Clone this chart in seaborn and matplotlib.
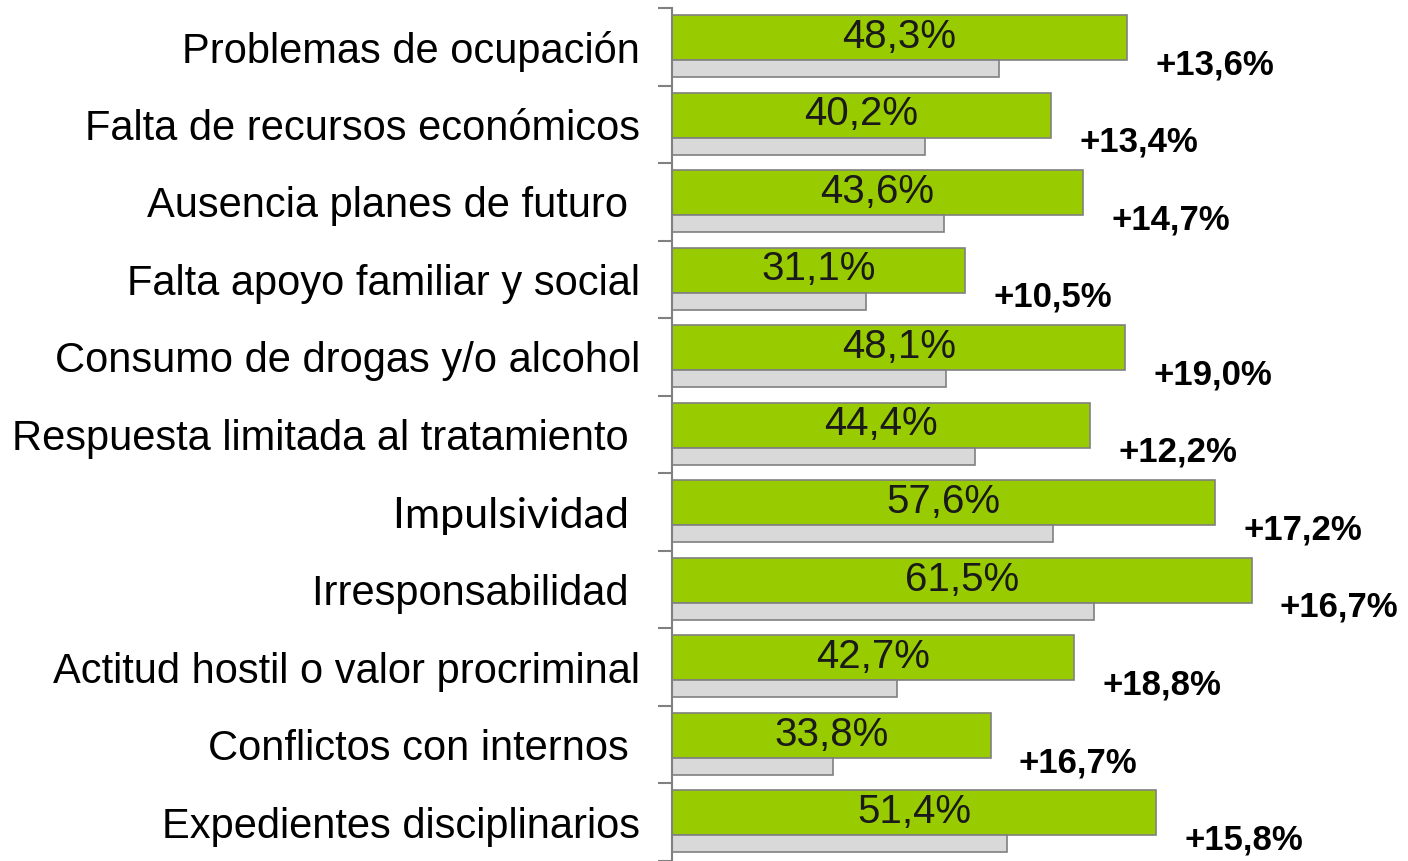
import pandas as pd
import matplotlib.pyplot as plt
import seaborn as sns

# Data
categories = [
    'Problemas de ocupación',
    'Falta de recursos económicos',
    'Ausencia planes de futuro ',
    'Falta apoyo familiar y social',
    'Consumo de drogas y/o alcohol',
    'Respuesta limitada al tratamiento ',
    'Impulsividad ',
    'Irresponsabilidad ',
    'Actitud hostil o valor procriminal',
    'Conflictos con internos ',
    'Expedientes disciplinarios',
]
green_values = [48.3, 40.2, 43.6, 31.1, 48.1, 44.4, 57.6, 61.5, 42.7, 33.8, 51.4]
gray_values = [34.7, 26.8, 28.9, 20.6, 29.1, 32.2, 40.4, 44.8, 23.9, 17.1, 35.6]
diff_labels = ['+13,6%', '+13,4%', '+14,7%', '+10,5%', '+19,0%', '+12,2%',
               '+17,2%', '+16,7%', '+18,8%', '+16,7%', '+15,8%']

df = pd.DataFrame({'cat': categories, 'green': green_values, 'gray': gray_values})

sns.set_style('white')
plt.rcParams['font.family'] = ['Liberation Sans', 'DejaVu Sans']

fig = plt.figure(figsize=(14.08, 8.61), dpi=100)
ax = fig.add_axes([672 / 1408, 0, 1 - 672 / 1408, 1 - 8 / 861])

# Green bars (upper part of each row)
sns.barplot(data=df, y='cat', x='green', orient='h', width=0.58,
            color='#99CC00', edgecolor='#808080', linewidth=1.2,
            saturation=1, ax=ax)
n_green = len(ax.patches)
for p in ax.patches[:n_green]:
    p.set_y(p.get_y() - 0.12)

# Gray bars (lower part of each row)
sns.barplot(data=df, y='cat', x='gray', orient='h', width=0.22,
            color='#D9D9D9', edgecolor='#808080', linewidth=1.2,
            saturation=1, ax=ax)
for p in ax.patches[n_green:]:
    p.set_y(p.get_y() + 0.28)

# Value labels inside green bars and differences to the right
for i, (v, d) in enumerate(zip(green_values, diff_labels)):
    ax.text(v / 2, i - 0.13, f'{v:.1f}'.replace('.', ',') + '%',
            ha='center', va='center', fontsize=29, color='#1a1a1a')
    ax.text(v + 3.0, i + 0.23, d, ha='left', va='center', fontsize=25,
            fontweight='bold', color='black')

ax.set_xlim(0, 78.1)
ax.set_ylim(10.5, -0.5)
ax.set_xlabel('')
ax.set_ylabel('')
ax.set_xticks([])

# Category labels
ax.tick_params(axis='y', which='major', length=0, pad=23, labelsize=30,
               labelcolor='black')
for lbl in ax.get_yticklabels():
    if lbl.get_text().strip() == 'Impulsividad':
        lbl.set_family('Lato')
        lbl.set_fontsize(31)

# Small separator ticks between rows
ax.set_yticks([i - 0.5 for i in range(len(categories) + 1)], minor=True)
ax.tick_params(axis='y', which='minor', length=10, width=1.5, color='#808080',
               direction='out', left=True)

for s in ['top', 'right', 'bottom']:
    ax.spines[s].set_visible(False)
ax.spines['left'].set_color('#808080')
ax.spines['left'].set_linewidth(1.5)

fig.savefig('out.png', dpi=100)
